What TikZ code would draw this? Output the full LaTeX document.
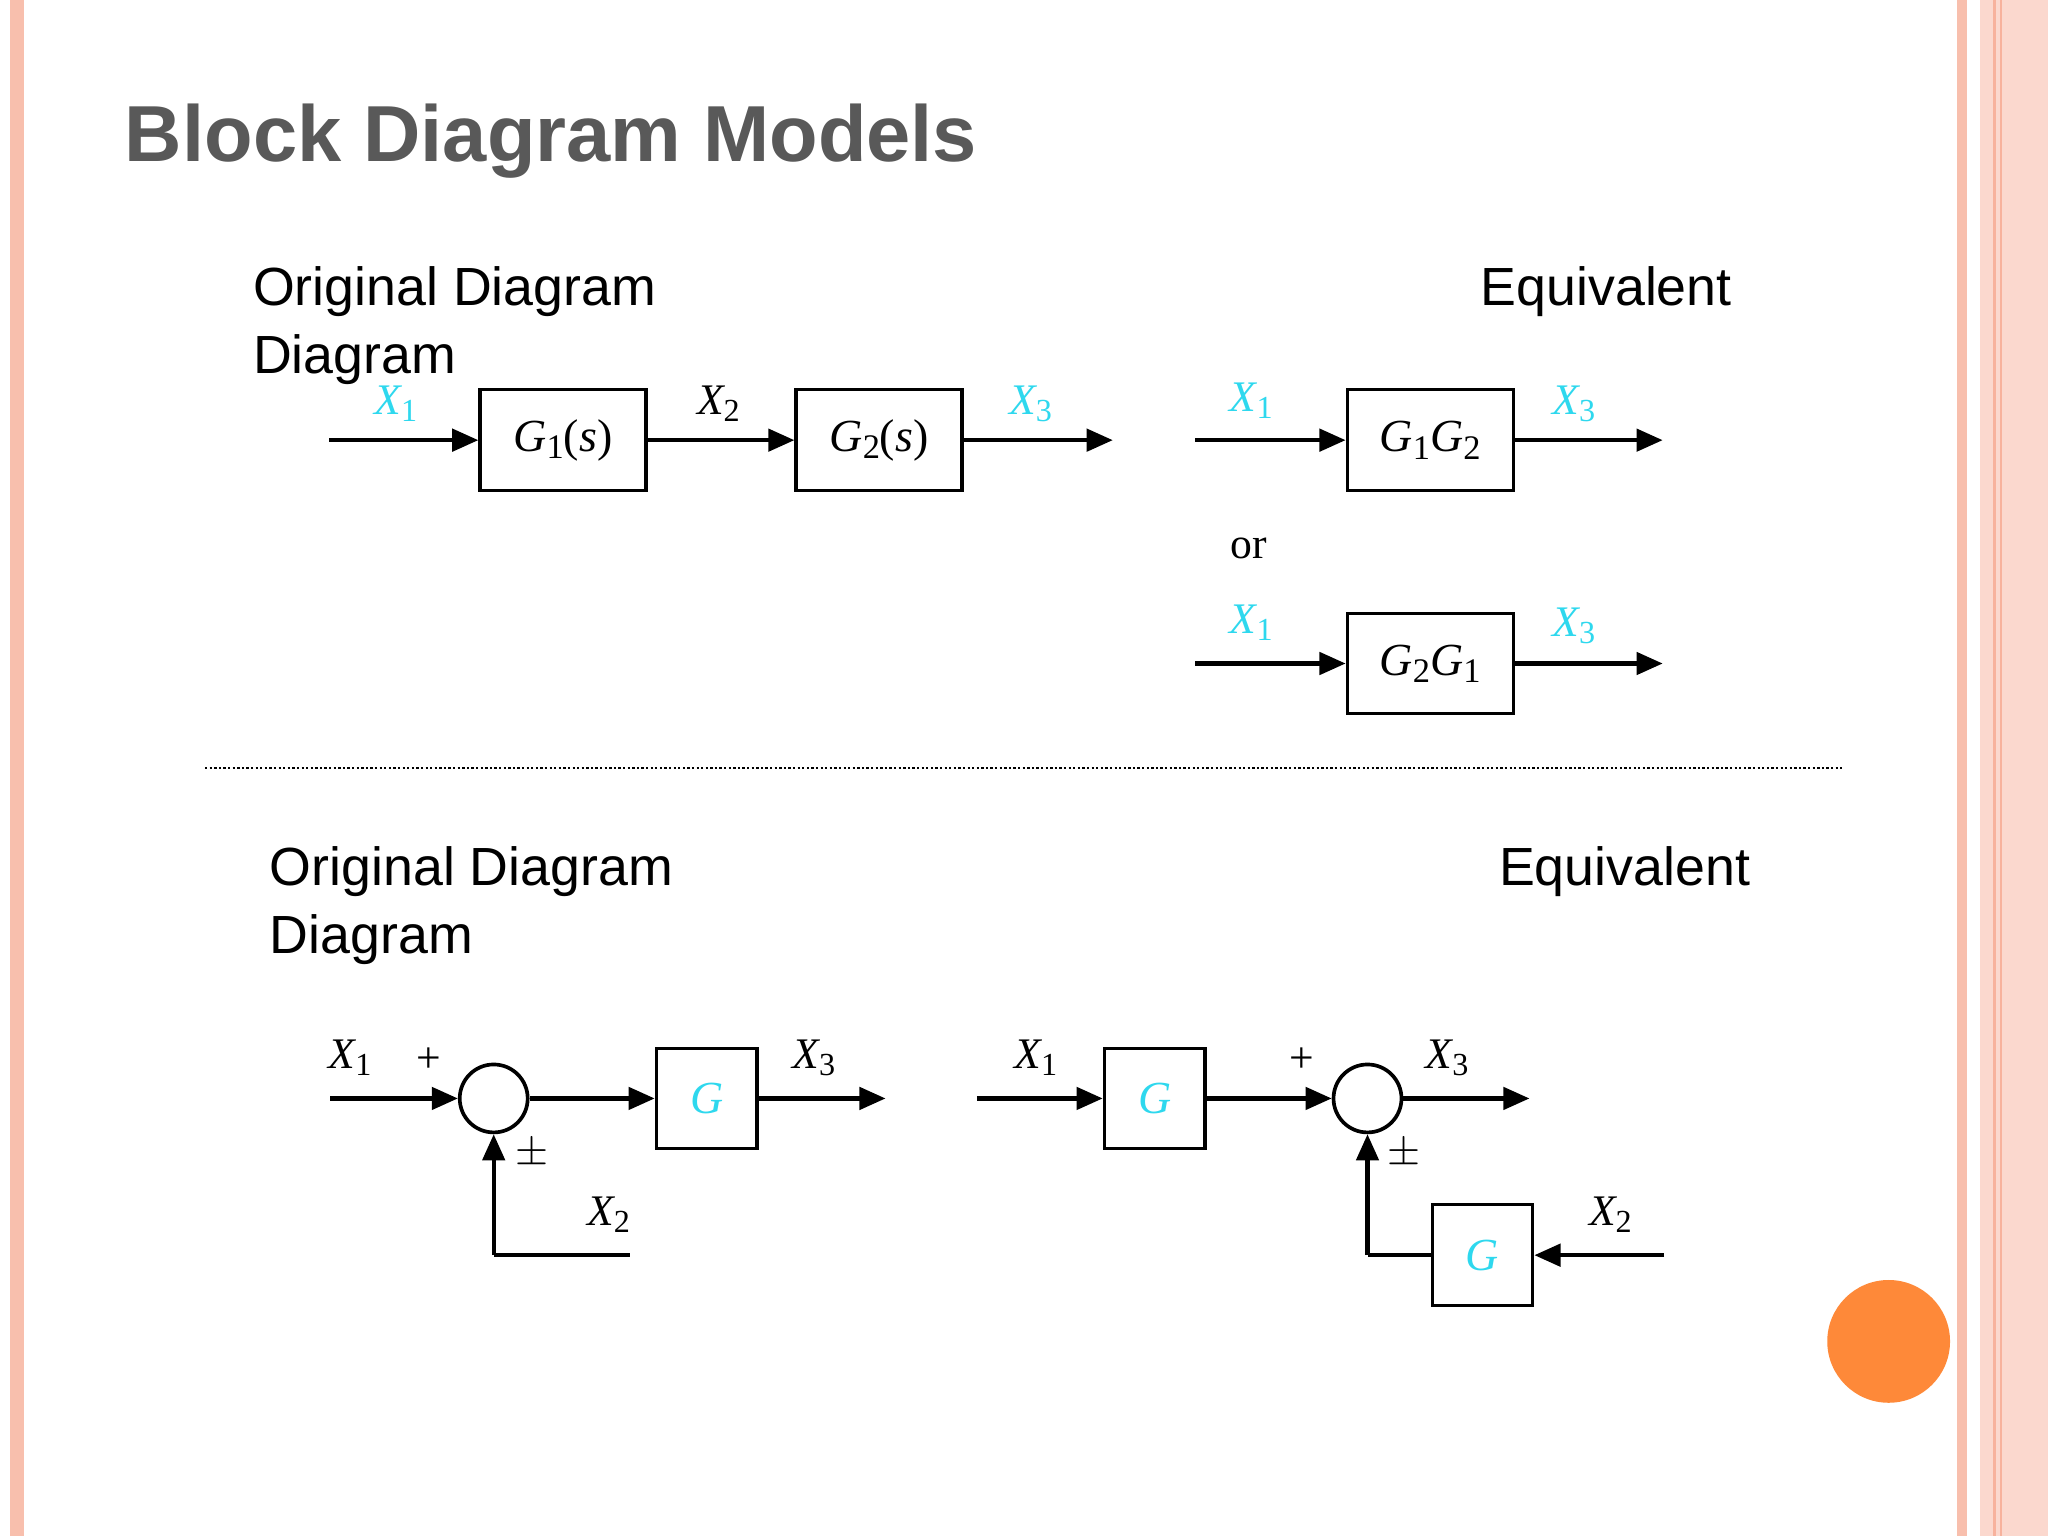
\documentclass[tikz,border=0pt]{standalone}
\usepackage{fontspec}
\setmainfont{Liberation Sans}
\newfontfamily\tms{Liberation Serif}
\usetikzlibrary{arrows.meta}
\definecolor{cy}{HTML}{2ED8EE}
\definecolor{sal}{HTML}{F8BFAD}
\newcommand{\vv}[2]{{\tms\itshape #1}\raisebox{-0.35ex}{\tms\fontsize{7}{8}\selectfont #2}}
\newcommand{\gsub}[2]{{\tms\itshape G}\raisebox{-0.35ex}{\tms\fontsize{7.5}{8}\selectfont #1}#2}
\begin{document}
\begin{tikzpicture}[x=0.01cm,y=-0.01cm,
 sig/.style={line width=0.9pt,-{Triangle[length=0.2cm,width=0.17cm]}},
 ln/.style={line width=0.9pt},
 blk/.style={draw,line width=0.7pt,minimum width=1.27cm,minimum height=0.77cm,inner sep=0pt,font=\tms\fontsize{10}{12}\selectfont},
 sblk/.style={blk,minimum width=0.77cm},
 lab/.style={font=\fontsize{9.5}{11}\selectfont\tms},
 hd/.style={anchor=base west,inner sep=0pt,font=\fontsize{11.7}{14}\selectfont},
 sm/.style={draw,circle,line width=0.8pt,minimum size=0.52cm,inner sep=0pt}]
\useasboundingbox (0,0) rectangle (1568,1176);
\fill[white] (0,0) rectangle (1568,1176);
\fill[sal] (8,0) rectangle (18,1176);
\fill[sal] (1498,0) rectangle (1506,1176);
\fill[sal!60] (1516,0) rectangle (1568,1176);
\draw[sal!120,line width=0.6pt] (1527,0) -- (1527,1176);
\draw[sal!120,line width=0.6pt] (1532,0) -- (1532,1176);
\node[anchor=base west,inner sep=0pt,text=black!65,font=\fontsize{17.3}{20}\selectfont\bfseries] (title) at (95,124) {Block Diagram Models};
% top
\node[hd] (o1) at (193,234) {Original Diagram};
\node[hd] (o1b) at (193,286) {Diagram};
\node[hd] (e1) at (1133,234) {Equivalent};
\coordinate (a0) at (252,337);
\node[blk] (g1) at (431,337) {\gsub{1}{(\textit{s})}};
\node[blk] (g2) at (673,337) {\gsub{2}{(\textit{s})}};
\coordinate (a3) at (852,337);
\draw[sig] (a0) -- (g1);
\draw[sig] (g1) -- (g2);
\draw[sig] (g2) -- (a3);
\node[lab,text=cy] (l1) at (303,309) {\vv{X}{1}};
\node[lab] (l2) at (550,309) {\vv{X}{2}};
\node[lab,text=cy] (l3) at (789,309) {\vv{X}{3}};
\coordinate (b0) at (915,337);
\node[blk] (g12) at (1095,337) {\gsub{1}{}\gsub{2}{}};
\coordinate (b3) at (1273,337);
\draw[sig] (b0) -- (g12);
\draw[sig] (g12) -- (b3);
\node[lab,text=cy] (m1) at (958,307) {\vv{X}{1}};
\node[lab,text=cy] (m3) at (1205,309) {\vv{X}{3}};
\node[lab] (or) at (956,420) {or};
\coordinate (c0) at (915,508);
\node[blk] (g21) at (1095,508) {\gsub{2}{}\gsub{1}{}};
\coordinate (c3) at (1273,508);
\draw[sig] (c0) -- (g21);
\draw[sig] (g21) -- (c3);
\node[lab,text=cy] (n1) at (958,477) {\vv{X}{1}};
\node[lab,text=cy] (n3) at (1205,479) {\vv{X}{3}};
\coordinate (d0) at (157,588);
\coordinate (d1) at (1410,588);
\draw[line width=0.5pt,dash pattern=on 0.5pt off 0.5pt] (d0) -- (d1);
% bottom
\node[hd] (o2) at (206,678) {Original Diagram};
\node[hd] (o2b) at (206,730) {Diagram};
\node[hd] (e2) at (1147,678) {Equivalent};
\coordinate (p0) at (253,841);
\node[sm] (s1) at (378,841) {};
\node[sblk,text=cy] (ga) at (541,841) {\textit{G}};
\coordinate (p3) at (678,841);
\coordinate (pf) at (482,961);
\coordinate (pc) at (378,961);
\draw[sig] (p0) -- (s1);
\draw[sig] (s1) -- (ga);
\draw[sig] (ga) -- (p3);
\draw[ln] (pf) -- (pc);
\draw[sig] (pc) -- (s1.south);
\node[lab] (q1) at (268,810) {\vv{X}{1}};
\node[lab] (qp) at (328,812) {+};
\node[lab] (qpm) at (407,884) {$\pm$};
\node[lab] (q3) at (623,810) {\vv{X}{3}};
\node[lab] (q2) at (466,930) {\vv{X}{2}};
\coordinate (r0) at (748,841);
\node[sblk,text=cy] (gb) at (884,841) {\textit{G}};
\node[sm] (s2) at (1047,841) {};
\coordinate (r3) at (1171,841);
\node[sblk,text=cy] (gc) at (1135,961) {\textit{G}};
\coordinate (rf) at (1274,961);
\coordinate (rc) at (1047,961);
\draw[sig] (r0) -- (gb);
\draw[sig] (gb) -- (s2);
\draw[sig] (s2) -- (r3);
\draw[sig] (rf) -- (gc);
\draw[ln] (gc) -- (rc);
\draw[sig] (rc) -- (s2.south);
\node[lab] (t1) at (793,810) {\vv{X}{1}};
\node[lab] (tp) at (997,812) {+};
\node[lab] (tpm) at (1075,884) {$\pm$};
\node[lab] (t3) at (1108,810) {\vv{X}{3}};
\node[lab] (t2) at (1233,930) {\vv{X}{2}};
\fill[fill={rgb,255:red,254;green,137;blue,57}] (1446,1027) circle (47);
\end{tikzpicture}
\end{document}
